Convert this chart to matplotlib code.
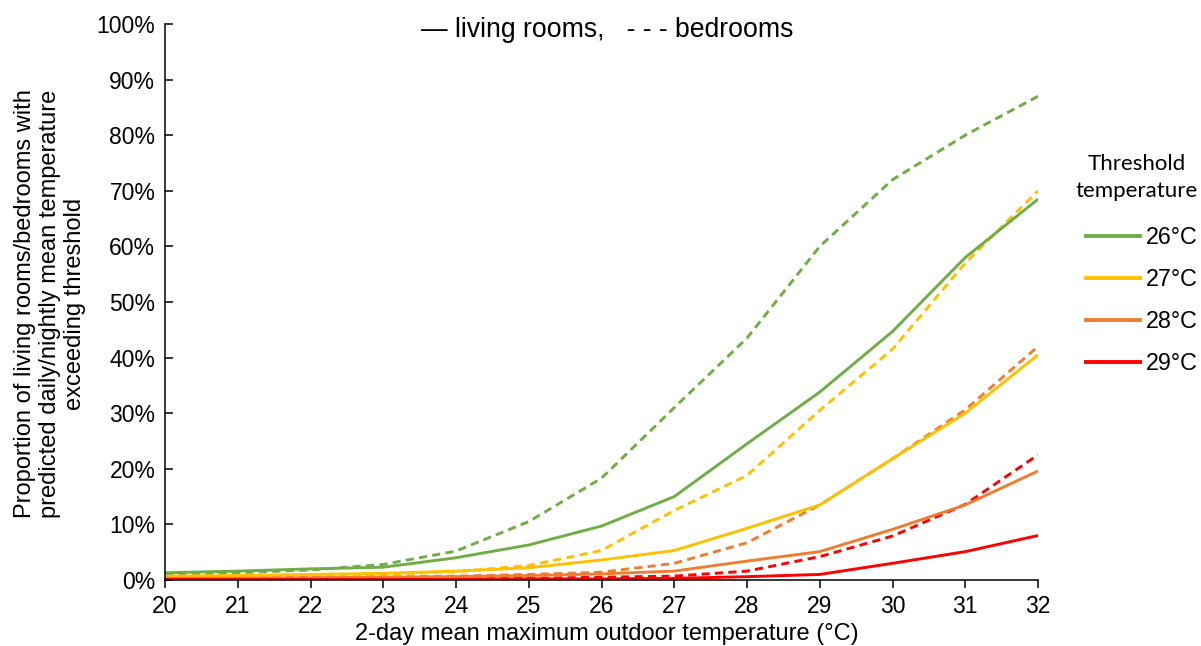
import matplotlib
matplotlib.use("Agg")
import matplotlib.pyplot as plt
from matplotlib.lines import Line2D
from matplotlib.ticker import FuncFormatter

plt.rcParams['font.family'] = ['Liberation Sans', 'DejaVu Sans']

# 2-day mean maximum outdoor temperature (°C)
outdoor_temp = [20, 21, 22, 23, 24, 25, 26, 27, 28, 29, 30, 31, 32]

# Proportion (%) exceeding each threshold, living rooms (solid)
living_26 = [1.3, 1.6, 2.0, 2.3, 4.0, 6.3, 9.7, 15.0, 24.5, 33.8, 44.7, 58.0, 68.5]
living_27 = [0.7, 0.8, 1.0, 1.2, 1.6, 2.2, 3.6, 5.3, 9.3, 13.5, 21.8, 30.0, 40.5]
living_28 = [0.3, 0.3, 0.4, 0.5, 0.6, 0.8, 1.1, 1.6, 3.4, 5.1, 9.1, 13.5, 19.6]
living_29 = [0.1, 0.1, 0.1, 0.1, 0.1, 0.2, 0.2, 0.3, 0.6, 1.0, 3.0, 5.1, 8.0]

# Proportion (%) exceeding each threshold, bedrooms (dashed)
bedroom_26 = [1.0, 1.3, 1.8, 2.8, 5.2, 10.5, 18.3, 31.0, 43.5, 60.0, 72.0, 80.0, 87.0]
bedroom_27 = [0.5, 0.6, 0.8, 1.0, 1.5, 2.6, 5.3, 12.5, 18.8, 30.5, 41.5, 57.0, 70.0]
bedroom_28 = [0.2, 0.3, 0.4, 0.5, 0.7, 1.0, 1.4, 3.0, 6.7, 13.5, 21.8, 30.6, 42.0]
bedroom_29 = [0.1, 0.1, 0.1, 0.1, 0.2, 0.3, 0.5, 0.7, 1.6, 4.2, 7.9, 13.6, 22.5]

thresholds = ['26°C', '27°C', '28°C', '29°C']
colors = ['#70AD47', '#FFC000', '#ED7D31', '#FF0000']
living = [living_26, living_27, living_28, living_29]
bedrooms = [bedroom_26, bedroom_27, bedroom_28, bedroom_29]

fig = plt.figure(figsize=(12.01, 6.46), dpi=100)
ax = fig.add_axes([165 / 1201, 66 / 646, (1038 - 165) / 1201, (580 - 24) / 646])

lw = 2.1
for col, bed in zip(colors, bedrooms):
    ax.plot(outdoor_temp, bed, color=col, lw=lw, dashes=(2.8, 1.8),
            solid_capstyle='butt', dash_capstyle='butt')
for col, liv in zip(colors, living):
    ax.plot(outdoor_temp, liv, color=col, lw=lw, solid_capstyle='butt')

ax.set_xlim(20, 32)
ax.set_ylim(0, 100)
ax.set_xticks(outdoor_temp)
ax.set_yticks(range(0, 101, 10))
ax.yaxis.set_major_formatter(FuncFormatter(lambda v, p: f"{int(v)}%"))

for s in ['top', 'right']:
    ax.spines[s].set_visible(False)
for s in ['left', 'bottom']:
    ax.spines[s].set_linewidth(1.1)
    ax.spines[s].set_color('black')

ax.tick_params(axis='x', direction='out', length=6, width=1.1, labelsize=16.5, pad=5)
ax.tick_params(axis='y', direction='in', length=6, width=1.1, labelsize=16.5, pad=7)

fig.text(607 / 1201, 1 - 634 / 646, '2-day mean maximum outdoor temperature (°C)',
         ha='center', va='center', fontsize=17)
fig.text(50 / 1201, 1 - 304 / 646,
         'Proportion of living rooms/bedrooms with\n'
         'predicted daily/nightly mean temperature\n'
         'exceeding threshold',
         ha='center', va='center', rotation=90, fontsize=17,
         multialignment='center', linespacing=1.2)

fig.text(607 / 1201, 1 - 30 / 646, '— living rooms,   - - - bedrooms',
         ha='center', va='center', fontsize=19.2)

handles = [Line2D([0], [0], color=c, lw=2.8) for c in colors]
leg = fig.legend(handles, thresholds, loc='upper right',
                 bbox_to_anchor=(1.0, 1 - 150 / 646),
                 frameon=False, fontsize=16.8, handlelength=2.3,
                 handletextpad=0.25, labelspacing=0.82, borderaxespad=0.0,
                 borderpad=0.15,
                 title='Threshold\ntemperature',
                 title_fontproperties={'family': 'Lato', 'size': 16})
leg._legend_box.align = 'right'
leg._legend_box.sep = 18
leg.get_title().set_multialignment('center')
leg.get_title().set_linespacing(1.45)

fig.savefig('out.png', dpi=100)
